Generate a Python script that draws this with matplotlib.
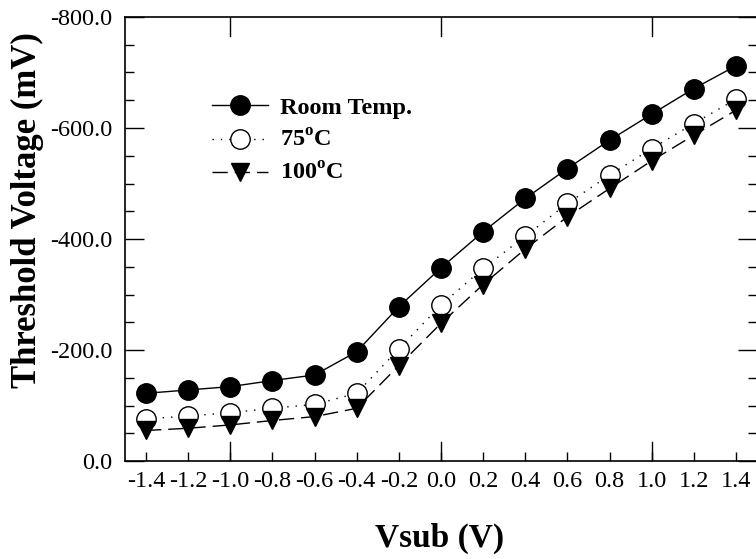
import matplotlib
matplotlib.use("Agg")
import matplotlib.pyplot as plt
from matplotlib.ticker import MultipleLocator, FormatStrFormatter

plt.rcParams['font.family'] = ['Liberation Serif', 'DejaVu Serif']
plt.rcParams['axes.unicode_minus'] = False
plt.rcParams['mathtext.fontset'] = 'custom'
plt.rcParams['mathtext.rm'] = 'Liberation Serif:bold'
plt.rcParams['mathtext.bf'] = 'Liberation Serif:bold'

vsub = [-1.4, -1.2, -1.0, -0.8, -0.6, -0.4, -0.2, 0.0, 0.2, 0.4, 0.6, 0.8, 1.0, 1.2, 1.4]
room_temp = [-122, -128, -134, -145, -155, -197, -278, -348, -413, -473, -527, -578, -625, -671, -712]
temp_75 = [-76, -81, -87, -95, -102, -122, -202, -281, -347, -405, -464, -515, -563, -608, -652]
temp_100 = [-55, -59, -65, -73, -80, -95, -172, -248, -318, -382, -440, -491, -541, -587, -632]

labels = ['Room Temp.', r'75$^{\mathrm{o}}$C', r'100$^{\mathrm{o}}$C']

fig = plt.figure(figsize=(7.56, 5.59), dpi=100)
ax = fig.add_axes([125/756, 1-461/559, 632/756, 444/559])

ax.plot(vsub, room_temp, color='black', lw=1.0, linestyle='-', marker='o',
        ms=14, mfc='black', mec='black', label=labels[0])
ax.plot(vsub, temp_75, color='black', lw=1.0, linestyle=(0, (1, 5)), marker='o',
        ms=14, mfc='white', mec='black', mew=1.0, label=labels[1])
ax.plot(vsub, temp_100, color='black', lw=1.0, linestyle=(0, (11, 5)), marker='v',
        ms=13.5, mfc='black', mec='black', label=labels[2])

ax.set_xlim(-1.5, 1.5)
ax.set_ylim(0, -800)

ax.xaxis.set_major_locator(MultipleLocator(0.2))
ax.xaxis.set_major_formatter(FormatStrFormatter('%.1f'))
ax.yaxis.set_major_locator(MultipleLocator(200))
ax.yaxis.set_minor_locator(MultipleLocator(50))
ax.yaxis.set_major_formatter(FormatStrFormatter('%.1f'))

ax.tick_params(axis='x', which='major', direction='in', length=6.5, width=1,
               bottom=True, top=False, labelsize=17.5, pad=7)
ax.tick_params(axis='y', which='major', direction='in', length=13.5, width=1,
               left=True, right=True, labelsize=17.5, pad=9)
ax.tick_params(axis='y', which='minor', direction='in', length=6.5, width=1,
               left=True, right=True)

# longer ticks at integer volts (bottom and top)
for xv in [-1.0, 0.0, 1.0]:
    ax.axvline(xv, ymin=0, ymax=13.5/320, color='black', lw=1)
    ax.axvline(xv, ymin=1-13.5/320, ymax=1, color='black', lw=1)

for s in ax.spines.values():
    s.set_linewidth(1.2)

ax.set_xlabel('Vsub (V)', fontsize=24, fontweight='bold')
ax.set_ylabel('Threshold Voltage (mV)', fontsize=25, fontweight='bold')
ax.xaxis.label.set_va('center')
ax.yaxis.label.set_va('center')
ax.xaxis.set_label_coords((440-125)/632, (461-538)/444)
ax.yaxis.set_label_coords((27-125)/632, (461-210)/444)

leg = ax.legend(loc='center left', bbox_to_anchor=((212-125)/632, (461-141)/444),
                frameon=False, numpoints=1, handlelength=2.3, handletextpad=0.5,
                labelspacing=0.45, borderpad=0, borderaxespad=0,
                prop={'family': 'Liberation Serif', 'weight': 'bold', 'size': 17.5})

fig.savefig('out.png', dpi=100)
